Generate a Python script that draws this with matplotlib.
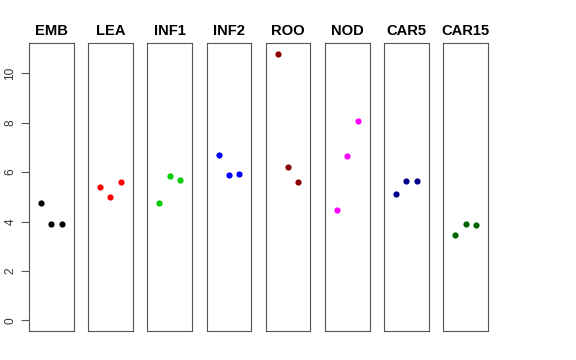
import matplotlib
matplotlib.use("Agg")
import matplotlib.pyplot as plt

plt.rcParams["font.family"] = ["Liberation Sans", "DejaVu Sans"]

# stage names, colours and the three replicate values per stage
stages = ["EMB", "LEA", "INF1", "INF2", "ROO", "NOD", "CAR5", "CAR15"]
colors = ["black", "red", "#00CD00", "blue", "#8B0000", "magenta", "#00008B", "#006400"]
reps = [1, 2, 3]
values = [
    [4.76, 3.91, 3.91],
    [5.40, 5.00, 5.60],
    [4.76, 5.85, 5.69],
    [6.71, 5.90, 5.91],
    [10.78, 6.21, 5.59],
    [4.48, 6.64, 8.09],
    [5.13, 5.63, 5.63],
    [3.47, 3.90, 3.87],
]
yticks = [0, 2, 4, 6, 8, 10]

W, H = 576, 360
fig = plt.figure(figsize=(W / 100, H / 100), dpi=100)

ymax = 10.8
ypad = 0.04 * ymax
for i, (name, col, vals) in enumerate(zip(stages, colors, values)):
    left = 29 + i * 59.2
    ax = fig.add_axes([left / W, (H - 331) / H, 44.5 / W, 288 / H])
    ax.scatter(reps, vals, s=20, color=col, zorder=3, linewidths=0)
    ax.set_xlim(-0.16, 4.16)
    ax.set_ylim(-ypad, ymax + ypad)
    ax.set_xticks([])
    ax.set_title(name, fontsize=10.6, fontweight="bold", pad=6)
    for s in ax.spines.values():
        s.set_color("#555555")
        s.set_linewidth(0.8)
    if i == 0:
        ax.set_yticks(yticks)
        ax.set_yticklabels([str(t) for t in yticks], fontsize=8.6)
        ax.tick_params(axis="y", length=6, width=0.8, color="#555555", pad=3,
                       labelrotation=90, labelcolor="#333333")
        for lab in ax.get_yticklabels():
            lab.set_va("center")
    else:
        ax.set_yticks([])

plt.savefig("out.png", dpi=100)
